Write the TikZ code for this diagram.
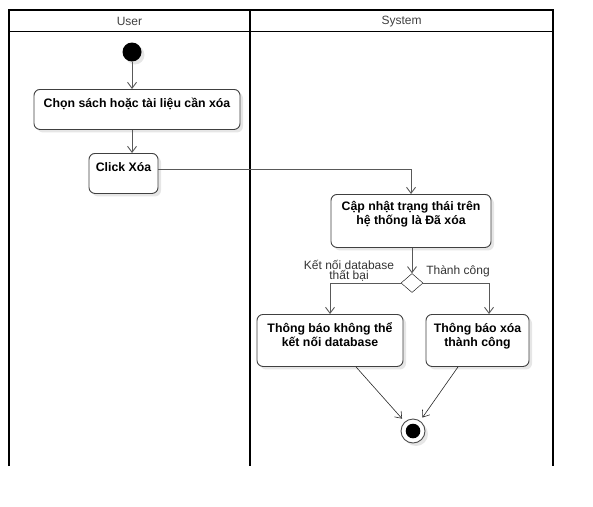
\documentclass[tikz,border=0pt]{standalone}
\usepackage{fontspec}
\setmainfont{Liberation Sans}
\usetikzlibrary{
    arrows.meta,
    positioning,
    shapes.geometric,
    shadows,
    calc
}

\begin{document}
\begin{tikzpicture}[
    x=1pt, y=-1pt,
    lane/.style={
        draw,
        line width=2pt
    },
    lanetitle/.style={
        font=\fontsize{12}{14}\selectfont,
        text=black!75
    },
    actbox/.style={
        draw=black!75,
        line width=0.9pt,
        rounded corners=6pt,
        fill=white,
        anchor=north,
        align=center,
        inner sep=0pt,
        font=\bfseries\fontsize{12.3}{14}\selectfont,
        drop shadow={shadow xshift=3pt, shadow yshift=-3pt, fill=black!12, opacity=0.8}
    },
    decision/.style={
        draw=black,
        diamond,
        fill=white,
        inner sep=0pt,
        minimum width=22pt,
        minimum height=19pt
    },
    guard/.style={
        font=\fontsize{12}{10.5}\selectfont,
        text=black!80,
        align=center
    },
    arrow/.style={
        -{Straight Barb[length=6pt, width=9pt]},
        draw=black!65,
        line width=0.9pt
    },
    thinarrow/.style={
        -{Straight Barb[length=6pt, width=9pt]},
        draw=black!85,
        line width=0.6pt
    }
]
\useasboundingbox (0,0) rectangle (593,506);

% swimlanes
\draw[lane] (9,466) -- (9,10) -- (553,10) -- (553,466);
\draw[lane] (250,10) -- (250,466);
\draw[line width=1pt] (9,31) -- (553,31);
\node[lanetitle] (userlane) at (129.5,21.5) {User};
\node[lanetitle] (systemlane) at (401.5,21.5) {System};

% user lane
\node[circle, fill=black, minimum size=19pt, inner sep=0pt,
    drop shadow={shadow xshift=3pt, shadow yshift=-3pt, fill=black!12, opacity=0.8}]
    (start) at (132,52) {};

\node[actbox, minimum width=206pt, text height=18pt, text depth=22pt]
    (choose) at (137,89) {Chọn sách hoặc tài liệu cần xóa};

\node[actbox, minimum width=69pt, text height=18pt, text depth=22pt]
    (click) at (123.5,153) {Click Xóa};

% system lane
\node[actbox, minimum width=160pt, text height=30pt, text depth=23pt]
    (update) at (411,194) {Cập nhật trạng thái trên\\hệ thống là Đã xóa};

\node[decision] (check) at (412,283) {};

\node[actbox, minimum width=146pt, text height=32pt, text depth=20pt]
    (fail) at (330,314) {Thông báo không thể\\kết nối database};

\node[actbox, minimum width=103pt, text height=32pt, text depth=20pt]
    (done) at (477.5,314) {Thông báo xóa\\thành công};

\node[circle, draw=black!70, line width=0.9pt, fill=white, minimum size=24pt, inner sep=0pt,
    path picture={\fill[black] (path picture bounding box.center) circle (7.3pt);},
    drop shadow={shadow xshift=3pt, shadow yshift=-3pt, fill=black!12, opacity=0.8}]
    (final) at (413,431) {};

% guards
\node[guard, anchor=south] (failguard) at (349,285) {Kết nối database\\thất bại};
\node[guard, anchor=base] (okguard) at (458,274) {Thành công};

% flows
\draw[arrow] (start) -- (start |- choose.north);
\draw[arrow] (choose.south -| start) -- (start |- click.north);
\draw[arrow] ([yshift=4pt]click.east) -| (update.north);
\draw[arrow] (update.south -| check) -- (check.north);
\draw[arrow] (check.west) -| (fail.north);
\draw[arrow] (check.east) -| ([xshift=11.5pt]done.north);
\draw[thinarrow, shorten >=4pt] ([xshift=26pt]fail.south) -- (final);
\draw[thinarrow, shorten >=4pt] ([xshift=-19.5pt]done.south) -- (final);

\end{tikzpicture}
\end{document}
